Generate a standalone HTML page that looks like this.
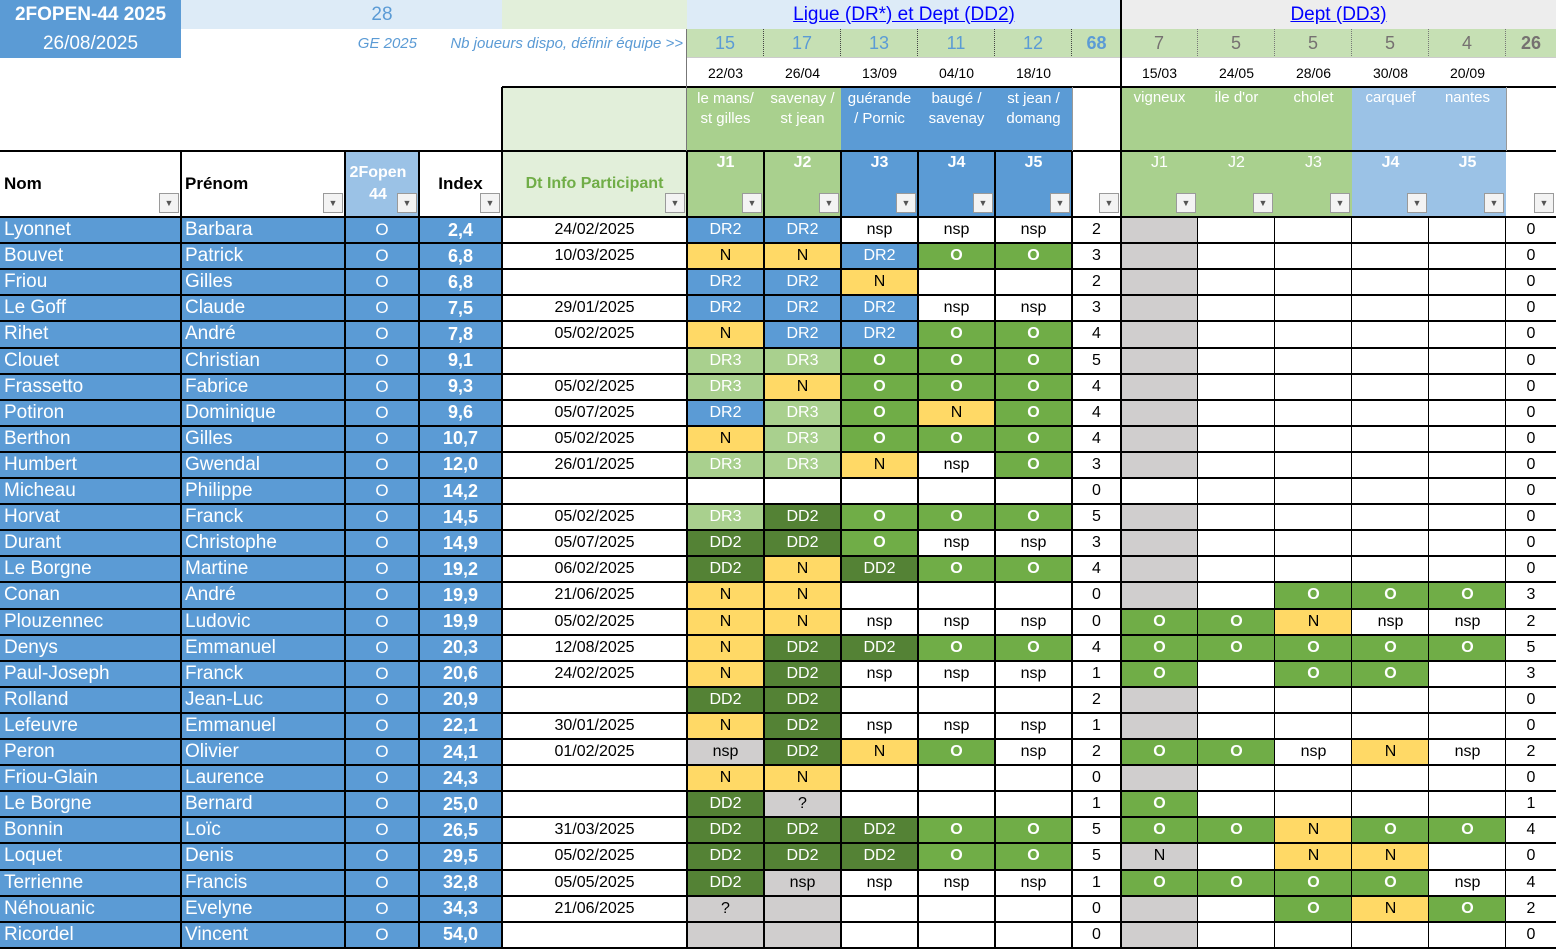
<!DOCTYPE html>
<html><head><meta charset="utf-8">
<style>
body{margin:0;width:1556px;height:949px;overflow:hidden;background:#fff;position:relative;font-family:"Liberation Sans",sans-serif}
.c{position:absolute;box-sizing:border-box;display:flex;align-items:center;justify-content:center;white-space:nowrap;overflow:hidden}
.n{font-family:"Liberation Sans Narrow","Liberation Sans",sans-serif}
.fb{position:absolute;width:20px;height:20px;box-sizing:border-box;background:#f3f3f3;border:1px solid #9a9a9a;font-size:9px;color:#555;display:flex;align-items:center;justify-content:center}
.ln{position:absolute;background:#000}
</style></head><body>
<div id="root"></div>
<script>
const names=["Lyonnet","Bouvet","Friou","Le Goff","Rihet","Clouet","Frassetto","Potiron","Berthon","Humbert","Micheau","Horvat","Durant","Le Borgne","Conan","Plouzennec","Denys","Paul-Joseph","Rolland","Lefeuvre","Peron","Friou-Glain","Le Borgne","Bonnin","Loquet","Terrienne","Néhouanic","Ricordel"];
const firstNames=["Barbara","Patrick","Gilles","Claude","André","Christian","Fabrice","Dominique","Gilles","Gwendal","Philippe","Franck","Christophe","Martine","André","Ludovic","Emmanuel","Franck","Jean-Luc","Emmanuel","Olivier","Laurence","Bernard","Loïc","Denis","Francis","Evelyne","Vincent"];
const indexes=["2,4","6,8","6,8","7,5","7,8","9,1","9,3","9,6","10,7","12,0","14,2","14,5","14,9","19,2","19,9","19,9","20,3","20,6","20,9","22,1","24,1","24,3","25,0","26,5","29,5","32,8","34,3","54,0"];
const dates=["24/02/2025","10/03/2025","","29/01/2025","05/02/2025","","05/02/2025","05/07/2025","05/02/2025","26/01/2025","","05/02/2025","05/07/2025","06/02/2025","21/06/2025","05/02/2025","12/08/2025","24/02/2025","","30/01/2025","01/02/2025","","","31/03/2025","05/02/2025","05/05/2025","21/06/2025",""];
// ligue: codes; "g:" prefix = grey background
const ligue=[
["DR2","DR2","nsp","nsp","nsp"],["N","N","DR2","O","O"],["DR2","DR2","N","",""],["DR2","DR2","DR2","nsp","nsp"],["N","DR2","DR2","O","O"],
["DR3","DR3","O","O","O"],["DR3","N","O","O","O"],["DR2","DR3","O","N","O"],["N","DR3","O","O","O"],["DR3","DR3","N","nsp","O"],
["","","","",""],["DR3","DD2","O","O","O"],["DD2","DD2","O","nsp","nsp"],["DD2","N","DD2","O","O"],["N","N","","",""],
["N","N","nsp","nsp","nsp"],["N","DD2","DD2","O","O"],["N","DD2","nsp","nsp","nsp"],["DD2","DD2","","",""],["N","DD2","nsp","nsp","nsp"],
["g:nsp","DD2","N","O","nsp"],["N","N","","",""],["DD2","g:?","","",""],["DD2","DD2","DD2","O","O"],["DD2","DD2","DD2","O","O"],
["DD2","g:nsp","nsp","nsp","nsp"],["g:?","g:","","",""],["g:","g:","","",""]];
const ligueTotals=[2,3,2,3,4,5,4,4,4,3,0,5,3,4,0,0,4,1,2,1,2,0,1,5,5,1,0,0];
const dept=[
["g:","","","",""],["g:","","","",""],["g:","","","",""],["g:","","","",""],["g:","","","",""],
["g:","","","",""],["g:","","","",""],["g:","","","",""],["g:","","","",""],["g:","","","",""],
["","","","",""],["g:","","","",""],["g:","","","",""],["g:","","","",""],["g:","","O","O","O"],
["O","O","N","nsp","nsp"],["O","O","O","O","O"],["O","","O","O",""],["g:","","","",""],["g:","","","",""],
["O","O","nsp","N","nsp"],["g:","","","",""],["O","","","",""],["O","O","N","O","O"],["g:N","","N","N",""],
["O","O","O","O","nsp"],["g:","","O","N","O"],["g:","","","",""]];
const deptTotals=[0,0,0,0,0,0,0,0,0,0,0,0,0,0,3,2,5,3,0,0,2,0,1,4,0,4,2,0];
const ligueCounts=["15","17","13","11","12"];
const deptCounts=["7","5","5","5","4"];
const ligueDates=["22/03","26/04","13/09","04/10","18/10"];
const deptDates=["15/03","24/05","28/06","30/08","20/09"];
const ligueVenues=["le mans/<br>st gilles","savenay /<br>st jean","guérande<br>/ Pornic","baugé /<br>savenay","st jean /<br>domang"];
const deptVenues=["vigneux","ile d'or","cholet","carquef","nantes"];

const X=[0,181,345,419,502,687,764,841,918,995,1072,1121,1198,1275,1352,1429,1506,1556];
const root=document.getElementById('root');
function cell(x,y,w,h,html,css,name,inter){
  const d=document.createElement('div');d.className='c';
  d.style.cssText=`left:${x}px;top:${y}px;width:${w}px;height:${h}px;`+(css||'');
  d.innerHTML=html;
  
  
  root.appendChild(d);return d;
}
function line(x,y,w,h,col){const d=document.createElement('div');d.className='ln';d.style.cssText=`left:${x}px;top:${y}px;width:${w}px;height:${h}px;`+(col?`background:${col};`:'');


root.appendChild(d);}
function fbtn(x,y){const d=document.createElement('div');d.className='fb';d.style.left=x+'px';d.style.top=y+'px';d.textContent='▼';


root.appendChild(d);}
const BLUE='#5b9bd5',LBLUE='#9bc2e6',DRG='#a9d08e',DDG='#548235',OG='#70ad47',YEL='#ffd966',GREY='#d0cece';
function style(v){
  let g=false;if(v.startsWith('g:')){g=true;v=v.slice(2);}
  let bg='#fff',col='#000',fw='normal';
  if(v==='DR2'){bg=BLUE;col='#fff';}
  else if(v==='DR3'){bg=DRG;col='#fff';}
  else if(v==='DD2'){bg=DDG;col='#fff';}
  else if(v==='O'){bg=OG;col='#fff';fw='bold';}
  else if(v==='N'){bg=YEL;}
  if(g)bg=GREY;
  return {v,css:`background:${bg};color:${col};font-weight:${fw};font-size:16px;`};
}
// header row 1
cell(0,0,181,29,'2FOPEN-44 2025',`background:${BLUE};color:#fff;font-weight:bold;font-size:19px;`,'sheet-title');
cell(181,0,321,29,'',`background:#ddebf7;`,'header-band');
cell(345,0,74,29,'28',`color:${BLUE};font-size:19px;`,'player-count');
cell(502,0,185,29,'',`background:#e2efda;`,'header-band');
cell(687,0,434,29,'<u>Ligue (DR*) et Dept (DD2)</u>',`background:#ddebf7;color:#0000ff;font-size:19px;`,'ligue-section-link',true);
cell(1121,0,435,29,'<u>Dept (DD3)</u>',`background:#ededed;color:#0000ff;font-size:19px;`,'dept-section-link',true);
// row 2
cell(0,29,181,29,'26/08/2025',`background:${BLUE};color:#fff;font-size:19px;`,'sheet-date');
cell(181,29,236,29,'GE 2025',`justify-content:flex-end;color:${BLUE};font-style:italic;font-size:15px;`,'ge-label');
cell(419,29,264,29,'Nb joueurs dispo, définir équipe &gt;&gt;',`justify-content:flex-end;color:${BLUE};font-style:italic;font-size:15px;`,'hint-label');
for(let i=0;i<5;i++){
  cell(X[5+i],29,77,29,ligueCounts[i],`background:#c6e0b4;color:${BLUE};font-size:18px;border-right:1px dotted #444;`,'ligue-count');
  cell(X[11+i],29,77,29,deptCounts[i],`background:#c6e0b4;color:#767171;font-size:18px;border-right:1px dotted #777;`,'dept-count');
  cell(X[5+i],58,77,29,ligueDates[i],`font-size:14px;`,'ligue-date');
  cell(X[11+i],58,77,29,deptDates[i],`font-size:14px;`,'dept-date');
  cell(X[5+i],87,77,64,ligueVenues[i],`align-items:flex-start;padding-top:2px;line-height:20px;white-space:normal;text-align:center;background:${i<2?DRG:BLUE};color:#fff;font-size:15px;`,'ligue-venue');
  cell(X[11+i],87,77,64,deptVenues[i],`align-items:flex-start;padding-top:2px;background:${i<3?DRG:LBLUE};color:#fff;font-size:15px;`,'dept-venue');
  cell(X[5+i],151,77,66,'J'+(i+1),`align-items:flex-start;padding-top:3px;background:${i<2?DRG:BLUE};color:#fff;font-weight:bold;font-size:16px;`,'ligue-round-header');
  cell(X[11+i],151,77,66,'J'+(i+1),`align-items:flex-start;padding-top:3px;background:${i<3?DRG:LBLUE};color:#fff;font-weight:${i<3?'normal':'bold'};font-size:16px;`,'dept-round-header');
}
cell(1072,29,49,29,'68',`background:#c6e0b4;color:${BLUE};font-weight:bold;font-size:18px;`,'ligue-total-count');
cell(1506,29,50,29,'26',`background:#c6e0b4;color:#767171;font-weight:bold;font-size:18px;`,'dept-total-count');
cell(502,87,185,64,'',`background:#e2efda;`,'header-band');
// row 5 headers
cell(0,151,181,66,'Nom',`justify-content:flex-start;padding-left:4px;font-weight:bold;font-size:17px;`,'nom-header');
cell(181,151,164,66,'Prénom',`justify-content:flex-start;padding-left:4px;font-weight:bold;font-size:17px;`,'prenom-header');
cell(345,151,74,66,'2Fopen<br>44',`background:${LBLUE};color:#fff;font-weight:bold;font-size:16px;white-space:normal;text-align:center;line-height:22px;padding-right:8px;`,'fopen-header');
cell(419,151,83,66,'Index',`font-weight:bold;font-size:17px;`,'index-header');
cell(502,151,185,66,'Dt Info Participant',`background:#e2efda;color:${OG};font-weight:bold;font-size:16px;`,'dt-info-header');
[X[1],X[2],X[3],X[4],X[5],X[6],X[7],X[8],X[9],X[10],X[11],X[12],X[13],X[14],X[15],X[16],X[17]].forEach(x=>fbtn(x-22,193));
// data rows
const Y0=217,RH=26.1;
for(let r=0;r<28;r++){
  const y=Y0+r*RH,h=RH;
  const row=document.createElement('div');
  cell(0,y,181,h,names[r],`justify-content:flex-start;padding-left:4px;background:${BLUE};color:#fff;font-size:19px;`,'last-name').classList.add('n');
  cell(181,y,164,h,firstNames[r],`justify-content:flex-start;padding-left:4px;background:${BLUE};color:#fff;font-size:19px;`,'first-name').classList.add('n');
  cell(345,y,74,h,'O',`background:${BLUE};color:#fff;font-size:17px;`,'fopen-flag');
  cell(419,y,83,h,indexes[r],`background:${BLUE};color:#fff;font-weight:bold;font-size:18px;`,'index-value').classList.add('n');
  cell(502,y,185,h,dates[r],`font-size:16px;`,'dt-info-date');
  for(let i=0;i<5;i++){
    const s=style(ligue[r][i]);cell(X[5+i],y,77,h,s.v,s.css,'ligue-result',true);
    const t=style(dept[r][i]);cell(X[11+i],y,77,h,t.v,t.css,'dept-result',true);
  }
  cell(1072,y,49,h,String(ligueTotals[r]),`font-size:16px;`,'ligue-total');
  cell(1506,y,50,h,String(deptTotals[r]),`font-size:16px;`,'dept-total');
}
// grid lines
for(let r=0;r<=28;r++){line(0,Math.round(Y0+r*RH)-1,1556,1.5);}
line(502,86,1054,1.5);line(0,150,1556,2);
line(687,57,869,1,'#ccc');
for(let i=1;i<=11;i++){line(X[i]-1,151,1.5,798);}
for(let i=11;i<=16;i++){line(X[i]-1,217,1,732,'#000');}
line(502-1,87,2,64);line(687-1,29,1,122,'#777');
line(1120,0,2,949);line(1072,87,1,64,'#999');line(1506,87,1,64,'#999');
line(0,948,1556,1);
</script>
</body></html>
